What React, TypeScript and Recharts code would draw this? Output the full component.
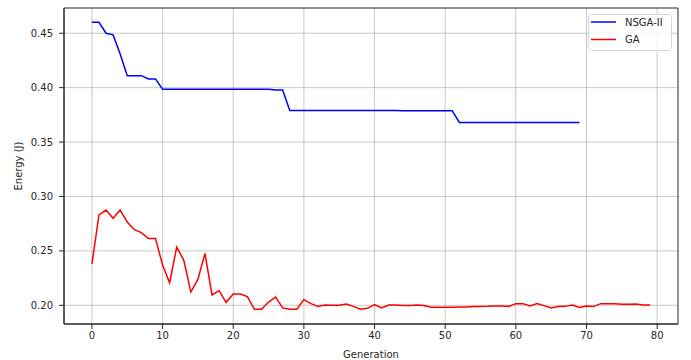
import React from "react";
import {
  LineChart,
  Line,
  XAxis,
  YAxis,
  CartesianGrid,
  ReferenceArea,
} from "recharts";

const nsgaEnergy = [
  0.46, 0.46, 0.45, 0.4485, 0.431, 0.411, 0.411, 0.411, 0.408, 0.408,
  0.3985, 0.3985, 0.3985, 0.3985, 0.3985, 0.3985, 0.3985, 0.3985, 0.3985, 0.3985,
  0.3985, 0.3985, 0.3985, 0.3985, 0.3985, 0.3985, 0.3978, 0.3978, 0.379, 0.379,
  0.379, 0.379, 0.379, 0.379, 0.379, 0.379, 0.379, 0.379, 0.379, 0.379,
  0.379, 0.379, 0.379, 0.379, 0.3788, 0.3788, 0.3788, 0.3788, 0.3788, 0.3788,
  0.3788, 0.3788, 0.368, 0.368, 0.368, 0.368, 0.368, 0.368, 0.368, 0.368,
  0.368, 0.368, 0.368, 0.368, 0.368, 0.368, 0.368, 0.368, 0.368, 0.368,
];

const gaEnergy = [
  0.238, 0.283, 0.2875, 0.28, 0.2875, 0.2765, 0.2695, 0.2668, 0.2613, 0.2613,
  0.2369, 0.2207, 0.2534, 0.2415, 0.2122, 0.2238, 0.2476, 0.2095, 0.2134, 0.2027,
  0.2104, 0.2104, 0.208, 0.1963, 0.1963, 0.203, 0.2075, 0.1976, 0.1963, 0.1963,
  0.2052, 0.2015, 0.199, 0.2003, 0.2, 0.2, 0.2012, 0.199, 0.1963, 0.1972,
  0.2006, 0.1976, 0.2003, 0.2003, 0.1997, 0.1997, 0.2003, 0.1997, 0.1982, 0.1982,
  0.1982, 0.1982, 0.1985, 0.1985, 0.1988, 0.1988, 0.199, 0.1994, 0.1994, 0.199,
  0.2015, 0.2015, 0.1994, 0.2015, 0.1997, 0.1976, 0.1988, 0.199, 0.2003, 0.1979,
  0.1994, 0.1988, 0.2015, 0.2015, 0.2015, 0.2009, 0.2009, 0.2012, 0.2003, 0.2003,
];

const xTicks = [0, 10, 20, 30, 40, 50, 60, 70, 80];
const yTicks = [0.2, 0.25, 0.3, 0.35, 0.4, 0.45];
const xDomain = [-3.95, 82.95];
const yDomain = [0.1828, 0.4732];

const series = [
  { key: "nsga", label: "NSGA-II", color: "#0000ff" },
  { key: "ga", label: "GA", color: "#ff0000" },
];

const data = gaEnergy.map((ga, i) => ({
  generation: i,
  nsga: i < nsgaEnergy.length ? nsgaEnergy[i] : undefined,
  ga,
}));

const font = "DejaVu Sans, sans-serif";
const ink = "#262626";
const tickStyle = { fontSize: 10, fill: ink, fontFamily: font };

function LegendBox() {
  return (
    <svg
      width={86}
      height={39}
      style={{ position: "absolute", left: 587, top: 13 }}
    >
      <rect
        x={1.5}
        y={1.5}
        width={83}
        height={36}
        rx={3}
        fill="#fff"
        fillOpacity={0.8}
        stroke="#d6d6d6"
      />
      {series.map((it, i) => {
        const cy = i === 0 ? 9 : 26.5;
        return (
          <g key={it.key}>
            <line x1={4} x2={29} y1={cy} y2={cy} stroke={it.color} strokeWidth={1.5} />
            <text
              x={38}
              y={cy}
              dy="0.35em"
              fontSize={10}
              fontFamily={font}
              fill={ink}
            >
              {it.label}
            </text>
          </g>
        );
      })}
    </svg>
  );
}

export default function App() {
  return (
    <div style={{ position: "fixed", left: 0, top: 0, width: 691, height: 360, background: "#fff" }}>
      <LineChart
        width={691}
        height={360}
        data={data}
        margin={{ top: 8, right: 13, left: 10, bottom: 0 }}
      >
        <CartesianGrid stroke="#b0b0b0" strokeOpacity={0.7} horizontalValues={yTicks} verticalValues={xTicks} />
        <XAxis
          dataKey="generation"
          type="number"
          domain={xDomain}
          ticks={xTicks}
          allowDataOverflow
          height={36}
          tick={tickStyle}
          tickLine={{ stroke: ink }}
          tickSize={5}
          tickMargin={3}
          axisLine={{ stroke: ink }}
          label={{
            value: "Generation",
            position: "insideBottom",
            offset: 2,
            style: { fontSize: 10, fill: ink, fontFamily: font },
          }}
        />
        <YAxis
          type="number"
          domain={yDomain}
          ticks={yTicks}
          allowDataOverflow
          width={54}
          tick={tickStyle}
          tickLine={{ stroke: ink }}
          tickSize={5}
          tickMargin={6}
          tickFormatter={(v: number) => v.toFixed(2)}
          axisLine={{ stroke: ink }}
          label={{
            value: "Energy (J)",
            angle: -90,
            position: "insideLeft",
            offset: 8,
            style: { fontSize: 10, fill: ink, fontFamily: font, textAnchor: "middle" },
          }}
        />
        <ReferenceArea
          x1={xDomain[0]}
          x2={xDomain[1]}
          y1={yDomain[0]}
          y2={yDomain[1]}
          fill="none"
          stroke={ink}
          strokeWidth={1}
          ifOverflow="visible"
        />
        {series.map((s) => (
          <Line
            key={s.key}
            name={s.label}
            type="linear"
            dataKey={s.key}
            stroke={s.color}
            strokeWidth={1.5}
            dot={false}
            isAnimationActive={false}
          />
        ))}
      </LineChart>
      <LegendBox />
    </div>
  );
}
